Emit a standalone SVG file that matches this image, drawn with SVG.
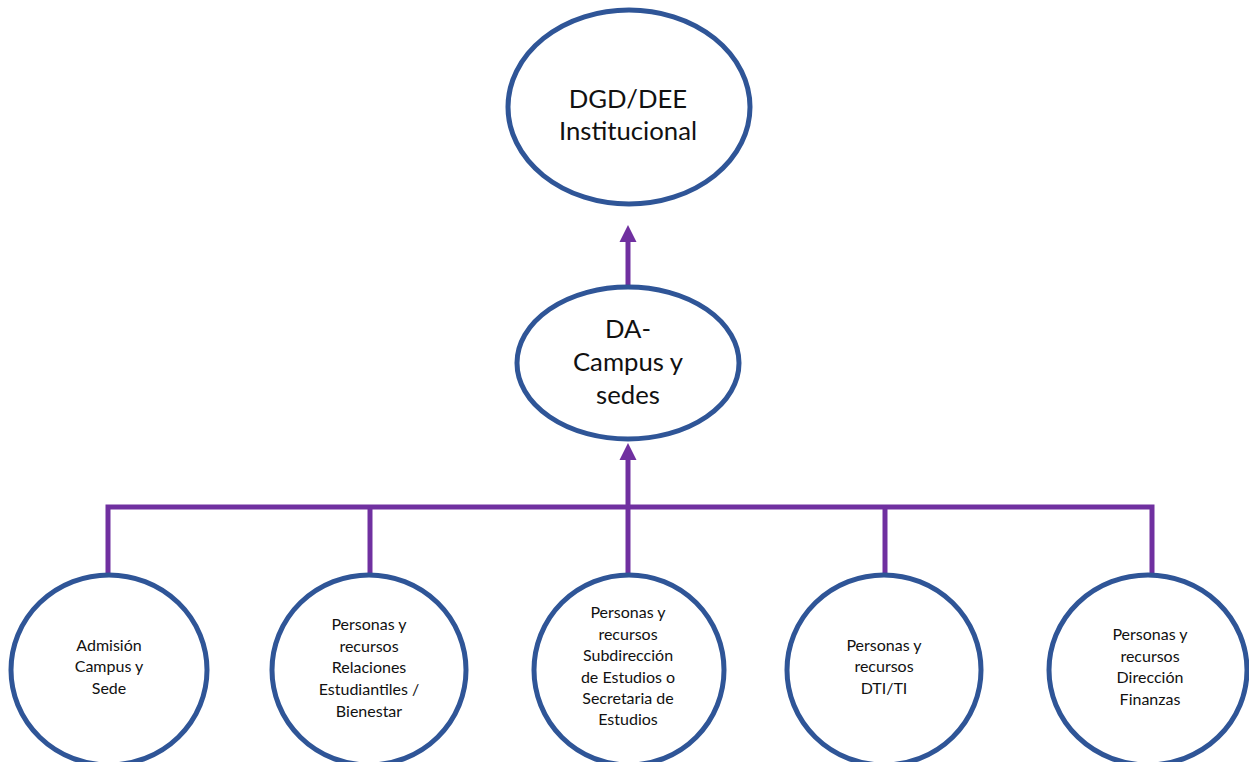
<svg xmlns="http://www.w3.org/2000/svg" width="1249" height="762" viewBox="0 0 1249 762">
  <defs>
    <style>
      .node { fill: #ffffff; stroke: #2F5597; stroke-width: 5; }
      .link { fill: none; stroke: #7030A0; stroke-width: 5; }
      .big { font-family: Lato, "Liberation Sans", sans-serif; font-size: 25.7px; fill: #111111; text-anchor: middle; }
      .small { font-family: Lato, "Liberation Sans", sans-serif; font-size: 16px; fill: #111111; text-anchor: middle; }
    </style>
    <marker id="head" markerUnits="userSpaceOnUse" markerWidth="20" markerHeight="20" viewBox="0 0 20 20" refX="3" refY="10" orient="auto">
      <path d="M0,1.5 L17,10 L0,18.5 Z" fill="#7030A0"/>
    </marker>
  </defs>

  <rect width="1249" height="762" fill="#ffffff"/>

  <!-- connectors -->
  <g id="connectors">
    <line class="link" x1="628" y1="286" x2="628" y2="239" marker-end="url(#head)"/>
    <line class="link" x1="628" y1="576" x2="628" y2="457" marker-end="url(#head)"/>
    <path class="link" d="M108,576 V507 H1152 V576"/>
    <line class="link" x1="370" y1="507" x2="370" y2="576"/>
    <line class="link" x1="885" y1="507" x2="885" y2="576"/>
  </g>

  <!-- top level -->
  <g id="dgd">
    <ellipse class="node" cx="629" cy="107" rx="121" ry="97"/>
    <text class="big" x="628" y="108">DGD/DEE</text>
    <text class="big" x="628" y="140">Institucional</text>
  </g>

  <!-- middle level -->
  <g id="da">
    <ellipse class="node" cx="628" cy="363" rx="111" ry="76"/>
    <text class="big" x="628" y="338">DA-</text>
    <text class="big" x="628" y="371">Campus y</text>
    <text class="big" x="628" y="404">sedes</text>
  </g>

  <!-- bottom level -->
  <g id="admision">
    <ellipse class="node" cx="109" cy="670" rx="98" ry="95"/>
    <text class="small" x="109" y="651">Admisión</text>
    <text class="small" x="109" y="672">Campus y</text>
    <text class="small" x="109" y="694">Sede</text>
  </g>

  <g id="bienestar">
    <ellipse class="node" cx="369" cy="670" rx="97" ry="95"/>
    <text class="small" x="369" y="630">Personas y</text>
    <text class="small" x="369" y="652">recursos</text>
    <text class="small" x="369" y="673">Relaciones</text>
    <text class="small" x="369" y="695">Estudiantiles /</text>
    <text class="small" x="369" y="717">Bienestar</text>
  </g>

  <g id="estudios">
    <ellipse class="node" cx="629" cy="670" rx="95" ry="95"/>
    <text class="small" x="628" y="618">Personas y</text>
    <text class="small" x="628" y="640">recursos</text>
    <text class="small" x="628" y="661">Subdirección</text>
    <text class="small" x="628" y="683">de Estudios o</text>
    <text class="small" x="628" y="704">Secretaria de</text>
    <text class="small" x="628" y="725">Estudios</text>
  </g>

  <g id="dti">
    <ellipse class="node" cx="884" cy="670" rx="97" ry="95"/>
    <text class="small" x="884" y="651">Personas y</text>
    <text class="small" x="884" y="672">recursos</text>
    <text class="small" x="884" y="694">DTI/TI</text>
  </g>

  <g id="finanzas">
    <ellipse class="node" cx="1148" cy="670" rx="99" ry="95"/>
    <text class="small" x="1150" y="640">Personas y</text>
    <text class="small" x="1150" y="662">recursos</text>
    <text class="small" x="1150" y="683">Dirección</text>
    <text class="small" x="1150" y="705">Finanzas</text>
  </g>
</svg>
